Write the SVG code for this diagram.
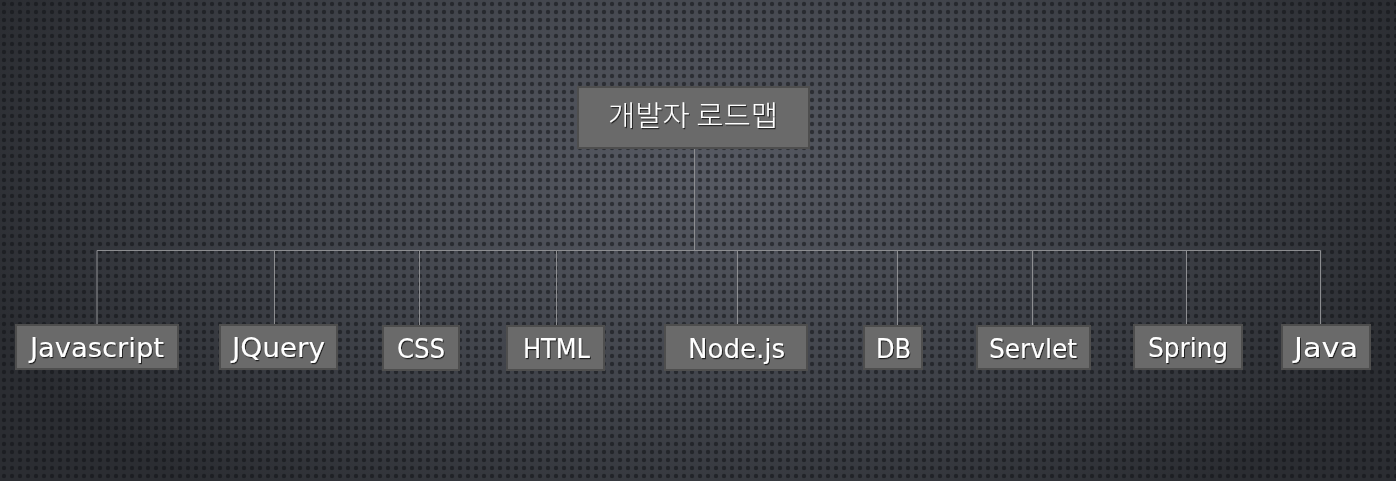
<svg xmlns="http://www.w3.org/2000/svg" width="1396" height="481" viewBox="0 0 1396 481">
  <defs>
    <radialGradient id="bg" cx="700" cy="170" r="760" gradientUnits="userSpaceOnUse" gradientTransform="translate(700 170) scale(1 0.55) translate(-700 -170)">
      <stop offset="0" stop-color="#575a63"/>
      <stop offset="0.55" stop-color="#40434a"/>
      <stop offset="1" stop-color="#2b2d32"/>
    </radialGradient>
    <pattern id="dots" x="0" y="0" width="8" height="8" patternUnits="userSpaceOnUse">
      <circle cx="4" cy="4" r="2.2" fill="#111215" fill-opacity="0.55"/>
    </pattern>
    <filter id="shadow" x="-10%" y="-30%" width="120%" height="160%">
      <feDropShadow dx="1" dy="1.2" stdDeviation="0.6" flood-color="#000" flood-opacity="0.7"/>
    </filter>
    <style>
      .box { fill: #6a6a6a; stroke: #4e4e4e; stroke-width: 2; }
      .lbl { font-family: "DejaVu Sans", "Liberation Sans", sans-serif; font-size: 26px; fill: #ffffff; text-anchor: middle; filter: url(#shadow); }
      .root { font-family: "Noto Sans CJK KR", "Noto Sans", sans-serif; font-size: 28px; font-weight: 300; fill: #ffffff; text-anchor: middle; filter: url(#shadow); }
      .conn { stroke: #8c8d90; stroke-width: 1; fill: none; }
    </style>
  </defs>
  <rect x="0" y="0" width="1396" height="481" fill="url(#bg)"/>
  <rect x="0" y="0" width="1396" height="481" fill="url(#dots)"/>

  <g id="connectors">
    <path class="conn" d="M694.5 148 V250.5 M97 250.5 H1320.5"/>
    <path class="conn" d="M97 250.5 V325 M274.5 250.5 V325 M419.5 250.5 V326 M556.5 250.5 V326 M737.5 250.5 V325 M897.5 250.5 V326 M1032.5 250.5 V326 M1186.5 250.5 V325 M1320.5 250.5 V325"/>
  </g>

  <g id="root">
    <rect class="box" x="578" y="87" width="231" height="61"/>
    <text class="root" x="693" y="126" textLength="170" lengthAdjust="spacingAndGlyphs">개발자 로드맵</text>
  </g>
  <g id="javascript">
    <rect class="box" x="16" y="325" width="162" height="44"/>
    <text class="lbl" x="97" y="357" textLength="134" lengthAdjust="spacingAndGlyphs">Javascript</text>
  </g>
  <g id="jquery">
    <rect class="box" x="220" y="325" width="117" height="44"/>
    <text class="lbl" x="278.5" y="357" textLength="93" lengthAdjust="spacingAndGlyphs">JQuery</text>
  </g>
  <g id="css">
    <rect class="box" x="383" y="326" width="76" height="44"/>
    <text class="lbl" x="421" y="358" textLength="48" lengthAdjust="spacingAndGlyphs">CSS</text>
  </g>
  <g id="html">
    <rect class="box" x="507" y="326" width="97" height="44"/>
    <text class="lbl" x="556.5" y="358" textLength="67" lengthAdjust="spacingAndGlyphs">HTML</text>
  </g>
  <g id="nodejs">
    <rect class="box" x="665" y="325" width="142" height="45"/>
    <text class="lbl" x="736.5" y="358" textLength="97" lengthAdjust="spacingAndGlyphs">Node.js</text>
  </g>
  <g id="db">
    <rect class="box" x="864" y="326" width="58" height="43"/>
    <text class="lbl" x="893.5" y="358" textLength="35" lengthAdjust="spacingAndGlyphs">DB</text>
  </g>
  <g id="servlet">
    <rect class="box" x="977" y="326" width="113" height="43"/>
    <text class="lbl" x="1033" y="358" textLength="88" lengthAdjust="spacingAndGlyphs">Servlet</text>
  </g>
  <g id="spring">
    <rect class="box" x="1134" y="325" width="108" height="44"/>
    <text class="lbl" x="1188" y="357" textLength="80" lengthAdjust="spacingAndGlyphs">Spring</text>
  </g>
  <g id="java">
    <rect class="box" x="1282" y="325" width="88" height="44"/>
    <text class="lbl" x="1326" y="357" textLength="64" lengthAdjust="spacingAndGlyphs">Java</text>
  </g>
</svg>
